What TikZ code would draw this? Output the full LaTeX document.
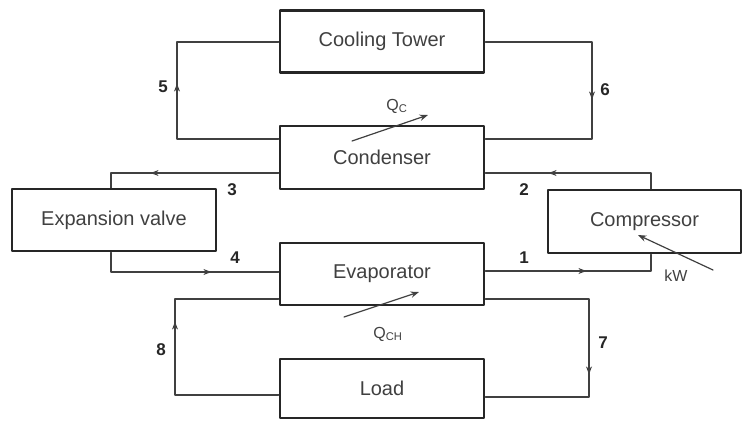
\documentclass[tikz,border=0pt]{standalone}
\usepackage{fontspec}
\setmainfont{Liberation Sans}
\usetikzlibrary{arrows.meta,decorations.markings}
\tikzset{
	unit/.style={draw=black!85,line width=2.8pt,minimum width=204pt,minimum height=62pt,inner sep=0pt,text=black!75,font=\fontsize{20}{24}\selectfont},
	pipe/.style={draw=black!75,line width=1.2pt},
	flowtip/.style={postaction={decorate,decoration={markings,mark=at position #1 with {\arrow{Stealth[length=8pt,width=6pt]}}}}},
	num/.style={font=\fontsize{17}{20}\selectfont\bfseries,text=black!85},
	heat/.style={font=\fontsize{16}{19}\selectfont,text=black!75}
}
\begin{document}
\begin{tikzpicture}[x=1pt,y=-1pt,>=Stealth,line join=round,line cap=round]
	\useasboundingbox (0,0) rectangle (744,421);
	% units
	\node[unit] (ct) at (382,41.5) {Cooling Tower};
	\node[unit,minimum height=63pt] (cond) at (382,157.5) {Condenser};
	\node[unit] (ev) at (114,220) {Expansion valve};
	\node[unit,minimum width=193pt,minimum height=63pt] (comp) at (644.5,221.5) {Compressor};
	\node[unit] (evap) at (382,274) {Evaporator};
	\node[unit,minimum height=59pt] (load) at (382,388.5) {Load};
	% cooling water
	\draw[pipe,flowtip=157pt] (cond.west |- 0,139) -- (177,139) -- (177,42) -- (ct.west |- 0,42);
	\draw[pipe,flowtip=164pt] (ct.east |- 0,42) -- (592,42) -- (592,139) -- (cond.east |- 0,139);
	% refrigerant
	\draw[pipe,flowtip=128pt] (cond.west |- 0,173) -- (111,173) -- (ev.north -| 111,0);
	\draw[pipe,flowtip=120pt] (ev.south -| 111,0) -- (111,272) -- (evap.west |- 0,272);
	\draw[pipe,flowtip=118pt] (comp.north -| 651,0) -- (651,173) -- (cond.east |- 0,173);
	\draw[pipe,flowtip=101pt] (evap.east |- 0,271) -- (651,271) -- (comp.south -| 651,0);
	% chilled water
	\draw[pipe,flowtip=179pt] (evap.east |- 0,299) -- (589,299) -- (589,397) -- (load.east |- 0,397);
	\draw[pipe,flowtip=177pt] (load.west |- 0,395) -- (175,395) -- (175,299) -- (evap.west |- 0,299);
	% heat and work
	\coordinate (qc0) at (352,141);
	\coordinate (qc1) at (428,115);
	\draw[pipe,->] (qc0) -- (qc1);
	\node[heat] (qc) at (397,106) {Q\textsubscript{C}};
	\coordinate (qch0) at (344,317);
	\coordinate (qch1) at (419,292);
	\draw[pipe,->] (qch0) -- (qch1);
	\node[heat] (qch) at (388,334) {Q\textsubscript{CH}};
	\coordinate (kw0) at (713,270);
	\coordinate (kw1) at (638,235);
	\draw[pipe,->] (kw0) -- (kw1);
	\node[heat] (kw) at (676,276) {kW};
	% state points
	\node[num] (l1) at (524,258) {1};
	\node[num] (l2) at (524,190) {2};
	\node[num] (l3) at (232,190) {3};
	\node[num] (l4) at (235,258) {4};
	\node[num] (l5) at (163,87) {5};
	\node[num] (l6) at (605,90) {6};
	\node[num] (l7) at (603,343) {7};
	\node[num] (l8) at (161,350) {8};
\end{tikzpicture}
\end{document}
